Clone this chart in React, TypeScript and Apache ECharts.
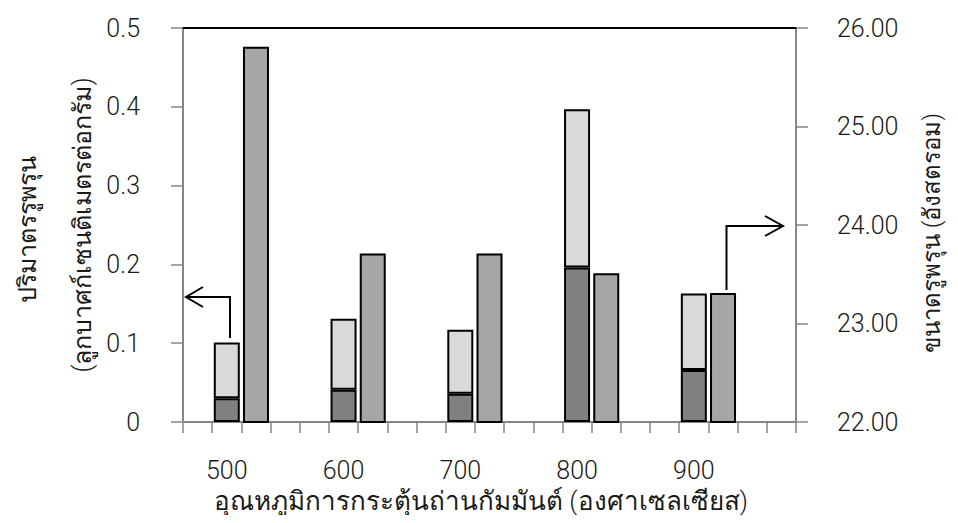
import React, { useEffect, useRef } from "react";
import * as echarts from "echarts";

// Activation temperatures (°C)
const temperatures = ["500", "600", "700", "800", "900"];
// Pore volume (cm3/g): lower (dark) segment and upper (light) segment of the stacked bar
const poreVolumeLower = [0.03, 0.041, 0.036, 0.196, 0.066];
const poreVolumeUpper = [0.071, 0.09, 0.081, 0.201, 0.097];
// Pore size (Å), right axis
const poreSize = [25.81, 23.71, 23.71, 23.51, 23.31];

// Layout of the category axis: 21 slots, group i uses slots 4i+1 (stack) and 4i+2 (pore size)
const SLOT_COUNT = 21;
const slotLabels: string[] = Array.from({ length: SLOT_COUNT }, () => "");
temperatures.forEach((t, i) => (slotLabels[4 * i + 1] = t));

function spread(values: number[], offset: number): (number | null)[] {
  const out: (number | null)[] = Array.from({ length: SLOT_COUNT }, () => null);
  values.forEach((v, i) => (out[4 * i + offset] = v));
  return out;
}

const FONT = "Roboto, 'Noto Sans', 'DejaVu Sans', sans-serif";
const AXIS_GRAY = "#868686";
const TEXT = "#1a1a1a";

export default function App() {
  const ref = useRef<HTMLDivElement>(null);
  useEffect(() => {
    if (!ref.current) return;
    const chart = echarts.init(ref.current, undefined, { renderer: "svg" });
    const barBorder = { borderColor: "#000", borderWidth: 2 };
    const titleStyle = {
      fontSize: 25,
      fontFamily: FONT,
      fontWeight: 300 as any,
      fill: TEXT,
      textAlign: "center",
      textVerticalAlign: "middle",
    };
    chart.setOption({
      animation: false,
      backgroundColor: "#fff",
      textStyle: { fontFamily: FONT },
      grid: { left: 183, right: 162, top: 28, bottom: 101, containLabel: false },
      xAxis: [
        {
          type: "category",
          data: slotLabels,
          boundaryGap: true,
          axisLine: { lineStyle: { color: AXIS_GRAY, width: 2 } },
          axisTick: { show: true, interval: 0, length: 11, lineStyle: { color: AXIS_GRAY, width: 1.5 } },
          axisLabel: {
            interval: 0,
            margin: 36,
            fontSize: 25,
            fontWeight: 300,
            color: TEXT,
            fontFamily: FONT,
            lineHeight: 25,
          },
          splitLine: { show: false },
        },
        {
          type: "category",
          position: "top",
          data: slotLabels,
          axisLine: { lineStyle: { color: "#000", width: 2 } },
          axisTick: { show: false },
          axisLabel: { show: false },
        },
      ],
      yAxis: [
        {
          type: "value",
          min: 0,
          max: 0.5,
          interval: 0.1,
          axisLine: { show: true, lineStyle: { color: AXIS_GRAY, width: 2 } },
          axisTick: { show: true, length: 12, lineStyle: { color: AXIS_GRAY, width: 1.5 } },
          axisLabel: { fontSize: 25, fontWeight: 300, color: TEXT, margin: 43, fontFamily: FONT },
          splitLine: { show: false },
        },
        {
          type: "value",
          min: 22,
          max: 26,
          interval: 1,
          position: "right",
          axisLine: { show: true, lineStyle: { color: AXIS_GRAY, width: 2 } },
          axisTick: { show: true, length: 12, lineStyle: { color: AXIS_GRAY, width: 1.5 } },
          axisLabel: {
            fontSize: 25,
            fontWeight: 300,
            color: TEXT,
            margin: 41,
            fontFamily: FONT,
            formatter: (v: number) => v.toFixed(2),
          },
          splitLine: { show: false },
        },
      ],
      series: [
        {
          name: "lower",
          type: "bar",
          stack: "volume",
          xAxisIndex: 0,
          yAxisIndex: 0,
          barWidth: 26,
          barGap: "-100%",
          data: spread(poreVolumeLower, 1),
          itemStyle: { color: "#808080", ...barBorder },
        },
        {
          name: "upper",
          type: "bar",
          stack: "volume",
          xAxisIndex: 0,
          yAxisIndex: 0,
          barWidth: 26,
          barGap: "-100%",
          data: spread(poreVolumeUpper, 1),
          itemStyle: { color: "#d9d9d9", ...barBorder },
        },
        {
          name: "size",
          type: "bar",
          xAxisIndex: 0,
          yAxisIndex: 1,
          barWidth: 26,
          barGap: "-100%",
          clip: true,
          data: spread(poreSize, 2),
          itemStyle: { color: "#a6a6a6", ...barBorder },
        },
      ],
      graphic: [
        {
          type: "text",
          x: 27,
          y: 229,
          rotation: Math.PI / 2,
          style: { ...titleStyle, text: "ปริมาตรรูพรุน" },
        },
        {
          type: "text",
          x: 82,
          y: 225,
          rotation: Math.PI / 2,
          style: { ...titleStyle, text: "(ลูกบาศก์เซนติเมตรต่อกรัม)" },
        },
        {
          type: "text",
          x: 932,
          y: 233,
          rotation: Math.PI / 2,
          style: { ...titleStyle, text: "ขนาดรูพรุน (อังสตรอม)", fontSize: 24 },
        },
        {
          type: "text",
          x: 481,
          y: 501,
          style: { ...titleStyle, text: "อุณหภูมิการกระตุ้นถ่านกัมมันต์ (องศาเซลเซียส)", fontSize: 26 },
        },
        {
          type: "polyline",
          shape: { points: [[230, 338], [230, 297], [186, 297]] },
          style: { stroke: "#000", lineWidth: 2, fill: "none" },
        },
        {
          type: "polyline",
          shape: { points: [[203, 287], [186, 297], [203, 307]] },
          style: { stroke: "#000", lineWidth: 2, fill: "none" },
        },
        {
          type: "polyline",
          shape: { points: [[726.5, 290], [726.5, 226], [783, 226]] },
          style: { stroke: "#000", lineWidth: 2, fill: "none" },
        },
        {
          type: "polyline",
          shape: { points: [[765, 216], [783, 226], [765, 236]] },
          style: { stroke: "#000", lineWidth: 2, fill: "none" },
        },
      ],
    });
    return () => chart.dispose();
  }, []);
  return <div ref={ref} style={{ width: 958, height: 523, margin: -8 }} />;
}
